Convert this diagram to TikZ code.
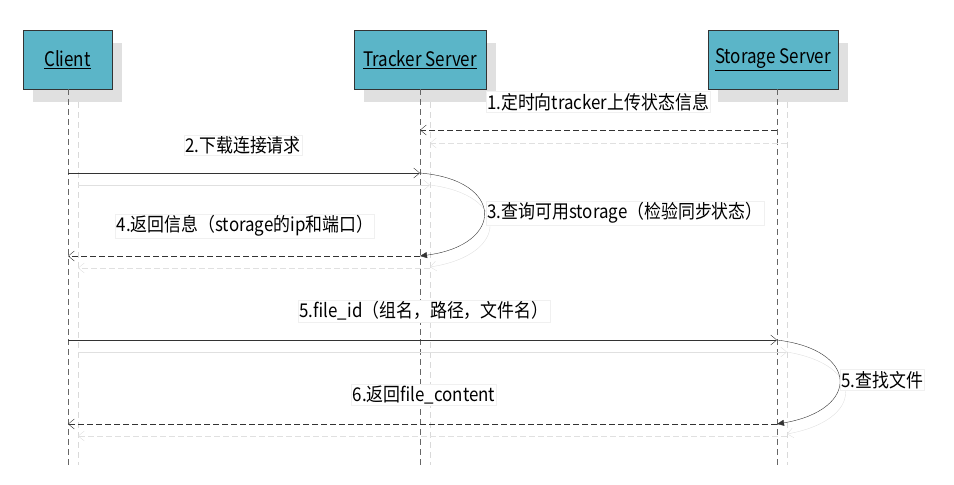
\documentclass[tikz,border=0pt]{standalone}
\usepackage{fontspec}
\setmainfont{Noto Sans CJK SC}
\usetikzlibrary{arrows.meta,shadows}
\definecolor{hdr}{HTML}{5BB5C8}
\tikzset{
  hbox/.style={draw=black!80,fill=hdr,minimum width=89pt,minimum height=59pt,font=\fontsize{20}{23}\selectfont,inner sep=0pt},
  shd/.style={fill=black!12},
  life/.style={dashed,black!60,dash pattern=on 6pt off 4pt},
  lifes/.style={dashed,black!15,dash pattern=on 6pt off 4pt},
  msg/.style={black!80,-{Straight Barb[length=6pt,width=10pt]}},
  dmsg/.style={msg,dash pattern=on 6pt off 3pt},
  smsg/.style={black!12,-{Straight Barb[length=6pt,width=10pt]}},
  lbl/.style={fill=white,draw=black!6,font=\fontsize{19}{22}\selectfont,inner sep=1.5pt,xscale=0.89}
}
\begin{document}
\begin{tikzpicture}[x=1pt,y=-1pt]
\useasboundingbox (0,0) rectangle (954,485);
% shadows
\fill[shd] (33,43) rectangle (122,102);
\fill[shd] (364,43) rectangle (496,102);
\fill[shd] (718,43) rectangle (848,102);
% lifelines
\draw[lifes] (78,102) -- (78,465);
\draw[lifes] (430,102) -- (430,465);
\draw[lifes] (787,102) -- (787,465);
\node[hbox] (c) at (67.5,59.5) {\underline{\scalebox{0.85}[1]{Client}}};
\node[hbox,minimum width=132pt] (t) at (420,59.5) {\underline{\scalebox{0.85}[1]{Tracker Server}}};
\node[hbox,minimum width=130pt] (s) at (773,59.5) {\underline{\scalebox{0.85}[1]{Storage Server}}};
\coordinate (c0) at (68,89); \coordinate (c1) at (68,465);
\coordinate (t0) at (420,89); \coordinate (t1) at (420,465);
\coordinate (s0) at (777,89); \coordinate (s1) at (777,465);
\draw[life] (c0) -- (c1);
\draw[life] (t0) -- (t1);
\draw[life] (s0) -- (s1);
% message points
\coordinate (s1a) at (777,130); \coordinate (t1a) at (420,130);
\coordinate (c2) at (68,173); \coordinate (t2) at (420,173);
\coordinate (t4) at (420,256); \coordinate (c4) at (68,256);
\coordinate (c5) at (68,340); \coordinate (s5) at (777,340);
\coordinate (s6) at (777,424); \coordinate (c6) at (68,424);
% shadow messages
\draw[smsg,dash pattern=on 6pt off 3pt] (787,143) -- (430,143);
\draw[smsg] (78,185) -- (430,185);
\draw[smsg] (430,185) .. controls (510,195) and (510,255) .. (430,267);
\draw[smsg,dash pattern=on 6pt off 3pt] (430,268) -- (78,268);
\draw[smsg] (78,352) -- (787,352);
\draw[smsg] (787,352) .. controls (865,365) and (865,420) .. (787,434);
\draw[smsg,dash pattern=on 6pt off 3pt] (787,436) -- (78,436);
% messages
\draw[dmsg] (s1a) -- (t1a);
\draw[msg] (c2) -- (t2);
\draw[black!80,-{Triangle[length=7pt,width=6pt]}] (t2) .. controls (505,180) and (505,245) .. (t4);
\draw[dmsg] (t4) -- (c4);
\draw[msg] (c5) -- (s5);
\draw[black!80,-{Triangle[length=7pt,width=6pt]}] (s5) .. controls (860,350) and (860,410) .. (s6);
\draw[dmsg] (s6) -- (c6);
% labels
\node[lbl] (l1) at (598,102) {1.定时向tracker上传状态信息};
\node[lbl] (l2) at (243,145) {2.下载连接请求};
\node[lbl,anchor=west] (l3) at (486,213) {3.查询可用storage（检验同步状态）};
\node[lbl] (l4) at (245,226) {4.返回信息（storage的ip和端口）};
\node[lbl] (l5) at (424,311) {5.file\_id（组名，路径，文件名）};
\node[lbl,anchor=west] (l5b) at (840,380) {5.查找文件};
\node[lbl] (l6) at (424,395) {6.返回file\_content};
\end{tikzpicture}
\end{document}
